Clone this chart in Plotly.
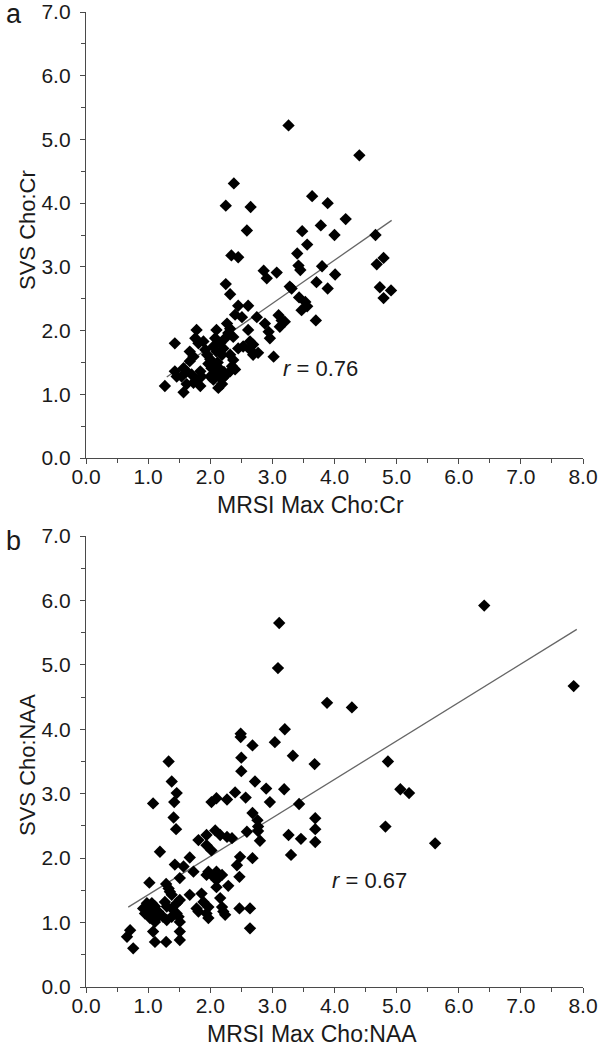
import plotly.graph_objects as go

# Panel a: MRSI Max Cho:Cr vs SVS Cho:Cr
a_x = [3.26, 4.40, 2.38, 2.25, 2.65, 3.64, 3.89, 2.59, 4.18, 3.78, 3.48, 4.00, 4.66,
       2.34, 2.45, 3.56, 3.40, 4.79,
       2.86, 3.07, 2.91, 3.42, 3.45, 3.80, 4.01, 3.71, 3.89, 4.68, 4.73, 4.91, 4.79,
       2.25, 2.32, 3.28, 3.31, 3.43, 3.53, 3.56, 3.47, 3.70,
       2.45, 2.61, 2.40, 2.51, 2.75, 3.10, 3.15, 3.20, 3.12, 2.88, 2.94, 2.96,
       2.61, 2.64, 2.69, 2.27, 2.32, 2.29, 2.24, 2.37,
       2.10, 2.08, 2.16, 2.21, 2.19, 2.10, 2.05,
       1.78, 1.76, 1.81, 1.89, 1.92, 1.43, 1.67, 1.73,
       1.95, 2.00, 1.97, 2.05, 2.12, 2.15, 2.22, 2.20, 2.25, 2.08,
       2.32, 2.37, 2.35, 2.32, 2.40,
       2.45, 2.53, 2.64, 2.69, 2.77, 3.02,
       1.67, 1.57, 1.62, 1.70, 1.54, 1.43, 1.46,
       1.84, 1.86, 1.78, 1.84,
       2.02, 2.08, 2.00, 2.05, 2.16, 2.19, 2.13,
       1.27, 1.57, 1.73, 1.62]
a_y = [5.22, 4.75, 4.31, 3.96, 3.94, 4.11, 4.00, 3.57, 3.75, 3.65, 3.56, 3.50, 3.50,
       3.18, 3.15, 3.35, 3.21, 3.14,
       2.94, 2.91, 2.82, 3.02, 2.95, 3.01, 2.88, 2.76, 2.66, 3.04, 2.68, 2.63, 2.51,
       2.73, 2.57, 2.69, 2.66, 2.52, 2.45, 2.38, 2.32, 2.16,
       2.39, 2.39, 2.25, 2.21, 2.21, 2.24, 2.16, 2.14, 2.06, 2.11, 1.98, 1.88,
       2.01, 1.83, 1.78, 2.11, 2.03, 1.96, 1.88, 1.90,
       2.01, 1.88, 1.80, 1.72, 1.62, 1.67, 1.75,
       2.01, 1.88, 1.80, 1.83, 1.70, 1.80, 1.67, 1.59,
       1.62, 1.55, 1.48, 1.45, 1.50, 1.40, 1.35, 1.25, 1.30, 1.33,
       1.62, 1.54, 1.44, 1.36, 1.39,
       1.72, 1.75, 1.70, 1.62, 1.65, 1.59,
       1.52, 1.41, 1.36, 1.31, 1.28, 1.36, 1.28,
       1.36, 1.28, 1.23, 1.13,
       1.41, 1.31, 1.28, 1.23, 1.26, 1.16, 1.10,
       1.13, 1.03, 1.18, 1.16]
a_fit_x = [1.30, 4.92]
a_fit_y = [1.27, 3.73]

# Panel b: MRSI Max Cho:NAA vs SVS Cho:NAA
b_x = [6.41, 7.85, 3.11, 3.09, 3.88, 4.28, 3.20, 2.49, 2.49, 2.68, 3.04, 1.33, 2.50, 2.50,
       3.33, 3.68, 4.86, 1.38, 2.72, 2.90, 3.19, 5.06, 5.20, 2.96, 3.43, 2.68, 2.76,
       2.77, 3.69, 3.69, 3.69, 3.26, 3.46, 2.80, 4.82, 5.62, 2.68, 3.30,
       1.46, 1.42, 1.08, 1.41, 1.45, 2.40, 2.02, 2.10, 2.27, 2.57, 2.77, 2.59,
       1.81, 1.94, 2.08, 1.94, 2.02, 2.16, 2.27, 2.35, 1.19, 2.48, 2.43, 2.47,
       1.67, 1.43, 1.57, 1.73, 1.97, 2.02, 2.10, 2.19, 2.10, 1.94, 1.51, 1.02,
       1.29, 1.33, 1.35, 1.38, 2.10, 2.29, 1.67, 1.51, 1.46, 1.86, 1.89, 1.97,
       1.94, 1.97, 1.78, 1.81, 2.16, 2.19, 2.21, 2.24, 2.47, 2.64, 2.64,
       0.98, 0.92, 1.00, 1.06, 1.11, 0.95, 1.06, 1.16, 1.03, 1.14, 1.24, 1.30,
       1.38, 1.46, 1.30, 1.38, 1.27, 1.49, 1.51, 1.11, 1.08, 1.11, 1.29, 1.51,
       1.51, 0.71, 0.66, 0.76]
b_y = [5.92, 4.67, 5.65, 4.95, 4.41, 4.34, 4.00, 3.93, 3.88, 3.75, 3.80, 3.50, 3.56, 3.35,
       3.59, 3.46, 3.50, 3.19, 3.19, 3.08, 3.07, 3.07, 3.01, 2.87, 2.84, 2.70, 2.59,
       2.49, 2.62, 2.45, 2.25, 2.36, 2.30, 2.27, 2.49, 2.23, 2.00, 2.05,
       3.01, 2.87, 2.85, 2.63, 2.45, 3.02, 2.87, 2.93, 2.91, 2.94, 2.42, 2.41,
       2.28, 2.36, 2.43, 2.20, 2.12, 2.36, 2.33, 2.31, 2.10, 2.02, 1.89, 1.71,
       2.01, 1.90, 1.87, 1.79, 1.79, 1.74, 1.79, 1.74, 1.66, 1.74, 1.69, 1.62,
       1.60, 1.53, 1.48, 1.43, 1.55, 1.57, 1.43, 1.35, 1.30, 1.45, 1.32, 1.24,
       1.14, 1.07, 1.22, 1.17, 1.38, 1.24, 1.17, 1.12, 1.22, 1.22, 0.91,
       1.30, 1.22, 1.22, 1.30, 1.25, 1.14, 1.14, 1.17, 1.07, 1.07, 1.09, 1.04,
       1.09, 1.14, 1.25, 1.22, 1.32, 1.09, 1.01, 1.01, 0.86, 0.70, 0.70, 0.86,
       0.73, 0.88, 0.78, 0.60]
b_fit_x = [0.68, 7.90]
b_fit_y = [1.24, 5.55]

x_tickvals = [0, 1, 2, 3, 4, 5, 6, 7, 8]
y_tickvals = [0, 1, 2, 3, 4, 5, 6, 7]

FONT = "Arial, 'Liberation Sans', sans-serif"
TXT = "#1a1a1a"
AX = "#4a4a4a"

fig = go.Figure()
marker = dict(symbol="diamond", size=9.5, color="black", line=dict(width=0))
line_style = dict(color="#666666", width=1.3)

fig.add_trace(go.Scatter(x=a_fit_x, y=a_fit_y, mode="lines", line=line_style,
                         xaxis="x", yaxis="y", showlegend=False))
fig.add_trace(go.Scatter(x=a_x, y=a_y, mode="markers", marker=marker,
                         xaxis="x", yaxis="y", showlegend=False))
fig.add_trace(go.Scatter(x=b_fit_x, y=b_fit_y, mode="lines", line=line_style,
                         xaxis="x2", yaxis="y2", showlegend=False))
fig.add_trace(go.Scatter(x=b_x, y=b_y, mode="markers", marker=marker,
                         xaxis="x2", yaxis="y2", showlegend=False))

W, H = 605, 1050
x_dom = [86 / W, 583 / W]
ya_dom = [1 - 458 / H, 1 - 12 / H]
yb_dom = [1 - 987 / H, 1 - 536 / H]


def common():
    return dict(tickformat=".1f", ticks="outside", ticklen=5, tickwidth=1.2,
                tickcolor=AX, showline=True, linecolor=AX, linewidth=1.3,
                showgrid=False, zeroline=False, automargin=False,
                tickfont=dict(family=FONT, size=21, color=TXT),
                minor=dict(dtick=0.5, ticks="outside", ticklen=4, tickwidth=1.2,
                           tickcolor=AX, showgrid=False))


def xax(anchor):
    d = common()
    d.update(domain=x_dom, range=[0, 8], anchor=anchor, tickvals=x_tickvals,
             ticklabelstandoff=-5)
    return d


def yax(anchor, dom):
    d = common()
    d.update(domain=dom, range=[0, 7], anchor=anchor, tickvals=y_tickvals,
             ticklabelstandoff=5)
    return d


ann = [
    dict(text="a", x=4 / W, y=1 - 14 / H, xref="paper", yref="paper",
         xanchor="left", yanchor="middle", showarrow=False,
         font=dict(family=FONT, size=27, color=TXT)),
    dict(text="b", x=4 / W, y=1 - 541 / H, xref="paper", yref="paper",
         xanchor="left", yanchor="middle", showarrow=False,
         font=dict(family=FONT, size=27, color=TXT)),
    dict(text="MRSI Max Cho:Cr", x=310 / W, y=1 - 505 / H, xref="paper", yref="paper",
         xanchor="center", yanchor="middle", showarrow=False,
         font=dict(family=FONT, size=23, color=TXT)),
    dict(text="MRSI Max Cho:NAA", x=312 / W, y=1 - 1034 / H, xref="paper", yref="paper",
         xanchor="center", yanchor="middle", showarrow=False,
         font=dict(family=FONT, size=23, color=TXT)),
    dict(text="SVS Cho:Cr", x=27 / W, y=1 - 230 / H, xref="paper", yref="paper",
         xanchor="center", yanchor="middle", showarrow=False, textangle=-90,
         font=dict(family=FONT, size=22, color=TXT)),
    dict(text="SVS Cho:NAA", x=27 / W, y=1 - 765 / H, xref="paper", yref="paper",
         xanchor="center", yanchor="middle", showarrow=False, textangle=-90,
         font=dict(family=FONT, size=22, color=TXT)),
    dict(text="<i>r</i> = 0.76", x=3.77, y=1.41, xref="x", yref="y",
         xanchor="center", yanchor="middle", showarrow=False,
         font=dict(family=FONT, size=22, color=TXT)),
    dict(text="<i>r</i> = 0.67", x=4.56, y=1.66, xref="x2", yref="y2",
         xanchor="center", yanchor="middle", showarrow=False,
         font=dict(family=FONT, size=22, color=TXT)),
]

fig.update_layout(
    width=W, height=H,
    margin=dict(l=0, r=0, t=0, b=0),
    paper_bgcolor="white", plot_bgcolor="white",
    xaxis=xax("y"), yaxis=yax("x", ya_dom),
    xaxis2=xax("y2"), yaxis2=yax("x2", yb_dom),
    annotations=ann,
    showlegend=False,
)

fig.write_html("out.html",
               config={"displayModeBar": False},
               post_script="document.body.style.margin='0px';"
                           "document.body.style.padding='0px';")
